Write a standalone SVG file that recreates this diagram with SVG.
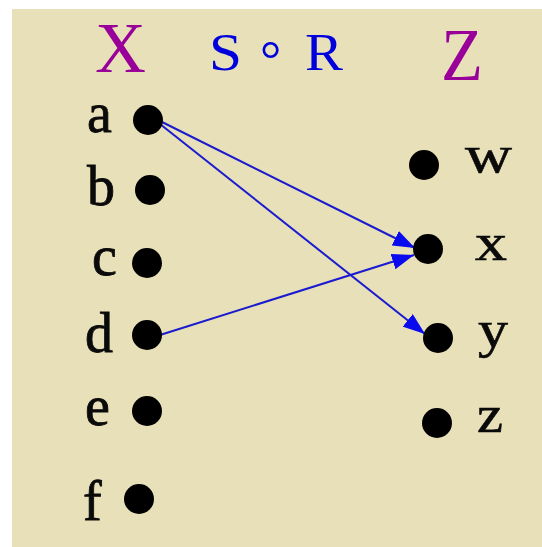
<svg xmlns="http://www.w3.org/2000/svg" width="542" height="547" viewBox="0 0 542 547">
<defs>
<style>
.dot{fill:#000}
.lbl{font-family:"Liberation Serif","Times New Roman",serif;font-size:56px;fill:#0a0a0a;stroke:#0a0a0a;stroke-width:0.8}
.rl{font-family:"Liberation Serif","Times New Roman",serif;font-size:52px;fill:#0a0a0a;stroke:#0a0a0a;stroke-width:0.6}
.set{font-family:"Liberation Serif","Times New Roman",serif;font-size:71px;fill:#990099}
.rel{font-family:"Liberation Serif","Times New Roman",serif;font-size:53px;fill:#0000dd}
.edge{stroke:#1a1ad0;stroke-width:2;fill:none;marker-end:url(#ah)}
</style>
<marker id="ah" viewBox="0 0 22 16" refX="22" refY="8" markerWidth="22" markerHeight="16" markerUnits="userSpaceOnUse" orient="auto">
<path d="M0,0 L22,8 L0,16 Z" fill="#0a0aee"/>
</marker>
</defs>
<rect x="0" y="0" width="542" height="547" fill="#ffffff"/>
<rect x="12" y="9" width="530" height="538" fill="#e8e0b8"/>
<text class="set" x="95" y="72" textLength="51" lengthAdjust="spacingAndGlyphs">X</text>
<text class="rel" x="209" y="70" textLength="33" lengthAdjust="spacingAndGlyphs">S</text>
<text class="rel" x="260" y="77">°</text>
<text class="rel" x="305" y="70" textLength="38" lengthAdjust="spacingAndGlyphs">R</text>
<text class="set" x="441" y="80" style="font-size:75px" textLength="42" lengthAdjust="spacingAndGlyphs">Z</text>
<g id="connectors">
<line class="edge" x1="160" y1="121" x2="415" y2="248"/>
<line class="edge" x1="160" y1="124" x2="425" y2="334"/>
<line class="edge" x1="160" y1="335" x2="414" y2="255"/>
</g>
<g id="node-a"><text class="lbl" x="87" y="132">a</text><circle class="dot" cx="148" cy="120" r="15"/></g>
<g id="node-b"><text class="lbl" x="87" y="205">b</text><circle class="dot" cx="150" cy="190" r="15"/></g>
<g id="node-c"><text class="lbl" x="92" y="275">c</text><circle class="dot" cx="147" cy="263" r="15"/></g>
<g id="node-d"><text class="lbl" x="85" y="352">d</text><circle class="dot" cx="147" cy="335" r="15"/></g>
<g id="node-e"><text class="lbl" x="85" y="425">e</text><circle class="dot" cx="147" cy="411" r="15"/></g>
<g id="node-f"><text class="lbl" x="83" y="520">f</text><circle class="dot" cx="139" cy="499" r="15"/></g>
<g id="node-w"><circle class="dot" cx="424" cy="165" r="15"/><text class="rl" x="465" y="172" textLength="47" lengthAdjust="spacingAndGlyphs">w</text></g>
<g id="node-x"><circle class="dot" cx="428" cy="249" r="15"/><text class="rl" x="475" y="260" textLength="32" lengthAdjust="spacingAndGlyphs">x</text></g>
<g id="node-y"><circle class="dot" cx="438" cy="338" r="15"/><text class="rl" x="478" y="347" textLength="30" lengthAdjust="spacingAndGlyphs">y</text></g>
<g id="node-z"><circle class="dot" cx="437" cy="423" r="15"/><text class="rl" x="477" y="432" textLength="26" lengthAdjust="spacingAndGlyphs">z</text></g>
</svg>
